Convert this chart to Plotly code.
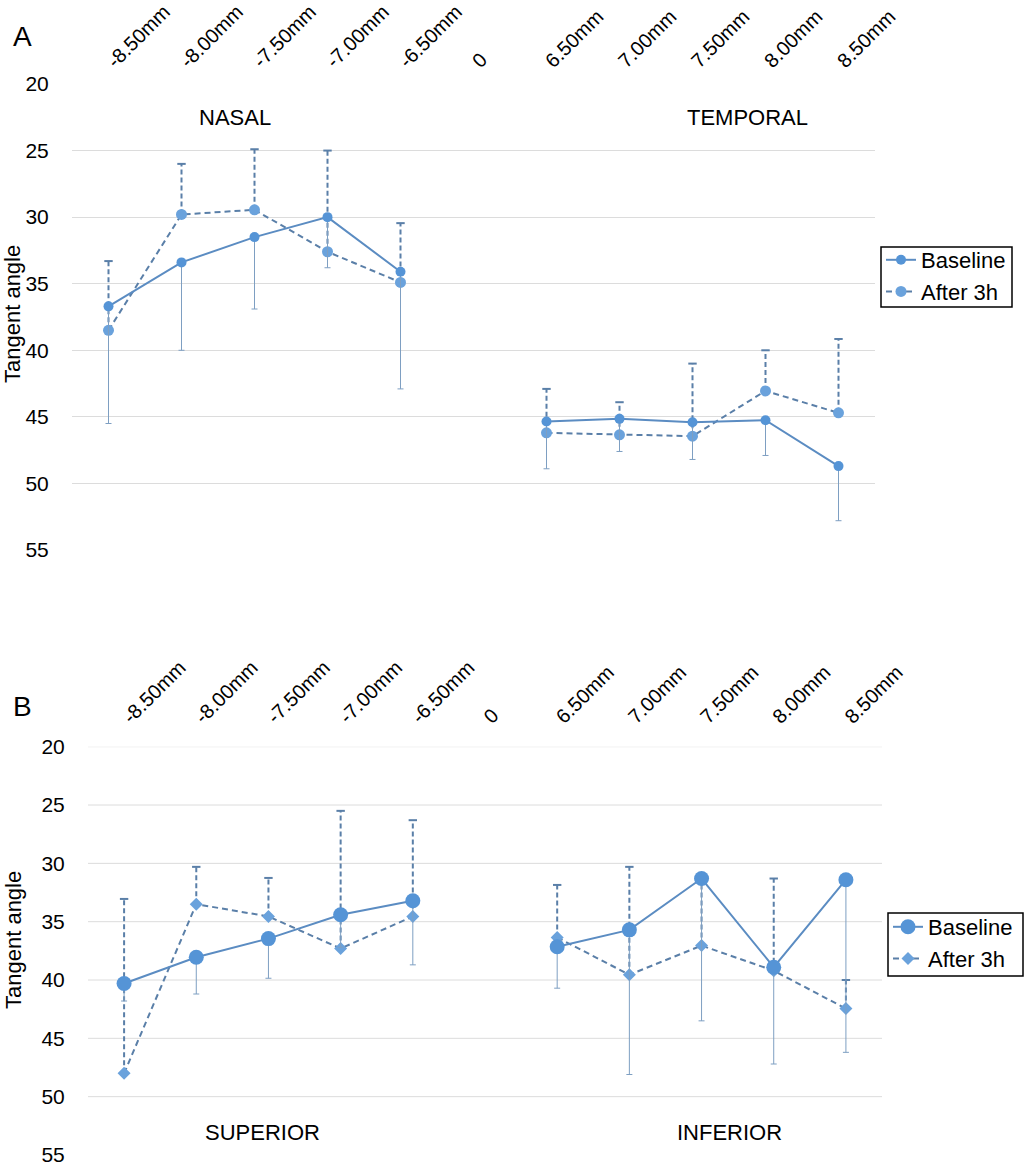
import plotly.graph_objects as go

CATEGORIES = ["-8.50mm", "-8.00mm", "-7.50mm", "-7.00mm", "-6.50mm", "0",
              "6.50mm", "7.00mm", "7.50mm", "8.00mm", "8.50mm"]
Y_TICKS = [20, 25, 30, 35, 40, 45, 50, 55]
GRID_B = [20, 25, 30, 35, 40, 45, 50]

# Panel A (nasal / temporal)
A_BASELINE = [36.7, 33.4, 31.5, 30.0, 34.1, None, 45.35, 45.15, 45.4, 45.25, 48.7]
A_BASELINE_ERR = [8.8, 6.6, 5.4, 3.8, 8.8, None, 3.55, 2.45, 2.8, 2.65, 4.1]
A_AFTER = [38.5, 29.8, 29.45, 32.6, 34.9, None, 46.2, 46.35, 46.45, 43.05, 44.7]
A_AFTER_ERR = [5.2, 3.8, 4.55, 7.6, 4.45, None, 3.3, 2.45, 5.45, 3.05, 5.55]

# Panel B (superior / inferior)
B_BASELINE = [40.3, 38.05, 36.45, 34.4, 33.2, None, 37.15, 35.7, 31.3, 38.9, 31.4]
B_BASELINE_ERR = [1.5, 3.15, 3.4, 2.8, 5.5, None, 3.55, 12.4, 12.2, 8.3, 14.8]
B_AFTER = [48.0, 33.5, 34.55, 37.3, 34.55, None, 36.35, 39.55, 37.05, 39.2, 42.45]
B_AFTER_ERR = [14.95, 3.2, 3.3, 11.8, 8.25, None, 4.5, 9.25, 5.7, 7.9, 2.45]

FONT = "Liberation Sans, Arial, sans-serif"
W, H = 1024, 1166


def px(x):
    return x / W


def py(y):
    return 1 - y / H


def err_segments(vals, errs):
    xs, ys = [], []
    for c, v, e in zip(CATEGORIES, vals, errs):
        if v is None:
            continue
        xs += [c, c, None]
        ys += [v, v - e, None]
    return xs, ys


def err_caps(vals, errs):
    xs, ys = [], []
    for c, v, e in zip(CATEGORIES, vals, errs):
        if v is None:
            continue
        xs.append(c)
        ys.append(v - e)
    return xs, ys


fig = go.Figure()

DASH_COL = "#5a7fa8"
SOLID_ERR_COL = "#7e9fc2"


def add_panel(xa, ya, legend, base, base_err, after, after_err,
              base_sym, base_size, after_sym, after_size):
    # dashed error bars for "After 3h"
    sx, sy = err_segments(after, after_err)
    fig.add_trace(go.Scatter(x=sx, y=sy, mode="lines", xaxis=xa, yaxis=ya,
                             line=dict(color=DASH_COL, width=2, dash="5px,3px"),
                             showlegend=False, hoverinfo="skip"))
    cx, cy = err_caps(after, after_err)
    fig.add_trace(go.Scatter(x=cx, y=cy, mode="markers", xaxis=xa, yaxis=ya,
                             marker=dict(symbol="line-ew-open", size=6,
                                         color=DASH_COL,
                                         line=dict(color=DASH_COL, width=2)),
                             showlegend=False, hoverinfo="skip"))
    # After 3h line
    fig.add_trace(go.Scatter(x=CATEGORIES, y=after, name="After 3h",
                             mode="lines+markers", xaxis=xa, yaxis=ya,
                             legend=legend, connectgaps=False,
                             line=dict(color=DASH_COL, width=2, dash="6px,4px"),
                             marker=dict(symbol=after_sym, size=after_size,
                                         color="#6aa2dc")))
    # Baseline line with solid error bars
    fig.add_trace(go.Scatter(x=CATEGORIES, y=base, name="Baseline",
                             mode="lines+markers", xaxis=xa, yaxis=ya,
                             legend=legend, connectgaps=False,
                             line=dict(color="#5b8cc2", width=2),
                             marker=dict(symbol=base_sym, size=base_size,
                                         color="#5594d6"),
                             error_y=dict(type="data", symmetric=False,
                                          array=[e if e is not None else 0 for e in base_err],
                                          arrayminus=[0] * len(base_err),
                                          color=SOLID_ERR_COL, thickness=1, width=3)))


add_panel("x", "y", "legend", A_BASELINE, A_BASELINE_ERR, A_AFTER, A_AFTER_ERR,
          "circle", 10, "circle", 11)
add_panel("x2", "y2", "legend2", B_BASELINE, B_BASELINE_ERR, B_AFTER, B_AFTER_ERR,
          "circle", 15, "diamond", 10)

xcommon = dict(type="category", categoryorder="array", categoryarray=CATEGORIES,
               side="top", tickangle=-45, showgrid=False, showline=False,
               zeroline=False, ticks="outside",
               tickcolor="rgba(0,0,0,0)", automargin=False,
               tickfont=dict(family=FONT, size=20, color="#000"),
               range=[-0.5, 10.5], fixedrange=True)
ycommon = dict(range=[55, 20], tickvals=Y_TICKS, showline=False, zeroline=False,
               ticks="outside", ticklen=18, tickcolor="rgba(0,0,0,0)",
               automargin=False, ticklabeloverflow="allow",
               tickfont=dict(family=FONT, size=21, color="#000"))

annotations = [
    dict(text="A", x=px(22), y=py(37), font=dict(size=28)),
    dict(text="B", x=px(22), y=py(706), font=dict(size=28)),
    dict(text="NASAL", x=px(235), y=py(117)),
    dict(text="TEMPORAL", x=px(747), y=py(117)),
    dict(text="SUPERIOR", x=px(262), y=py(1132)),
    dict(text="INFERIOR", x=px(729), y=py(1132)),
    dict(text="Tangent angle", x=px(13), y=py(314), textangle=-90),
    dict(text="Tangent angle", x=px(13), y=py(940), textangle=-90),
]
for a in annotations:
    size = a.get("font", {}).get("size", 22)
    a["font"] = dict(family=FONT, color="#000", size=size)
    a.update(xref="paper", yref="paper", showarrow=False,
             xanchor="center", yanchor="middle")

shapes = [dict(type="line", xref="x2 domain", x0=0, x1=1, yref="y2", y0=v, y1=v,
               line=dict(color="#dcdcdc", width=1), layer="below") for v in GRID_B]
# legend frames
for (x0, y0, x1, y1) in [(881, 247, 1012, 307), (888, 913, 1023, 976)]:
    shapes.append(dict(type="rect", xref="paper", yref="paper",
                       x0=px(x0), x1=px(x1), y0=py(y1), y1=py(y0),
                       line=dict(color="#000", width=1.5),
                       fillcolor="rgba(0,0,0,0)", layer="above"))

legend_common = dict(font=dict(family=FONT, size=22, color="#000"),
                     bgcolor="rgba(0,0,0,0)", borderwidth=0,
                     xanchor="left", yanchor="top", itemwidth=30,
                     tracegroupgap=0, traceorder="reversed")

fig.update_layout(
    width=W, height=H,
    margin=dict(l=0, r=0, t=0, b=0),
    paper_bgcolor="white", plot_bgcolor="white",
    font=dict(family=FONT, color="#000"),
    xaxis=dict(domain=[px(72), px(875)], anchor="y", ticklen=3, **xcommon),
    yaxis=dict(domain=[py(550), py(84)], anchor="x", showgrid=True,
               gridcolor="#dcdcdc", gridwidth=1, **ycommon),
    xaxis2=dict(domain=[px(88), px(882)], anchor="y2", ticklen=10, **xcommon),
    yaxis2=dict(domain=[py(1155), py(746.7)], anchor="x2", showgrid=False,
                **ycommon),
    legend=dict(x=px(881), y=py(239), **legend_common),
    legend2=dict(x=px(888), y=py(906), **legend_common),
    annotations=annotations,
    shapes=shapes,
    hovermode=False,
)

fig.write_html("out.html",
               config=dict(displayModeBar=False),
               post_script="document.body.style.margin='0';"
                           "document.body.style.overflow='hidden';")
